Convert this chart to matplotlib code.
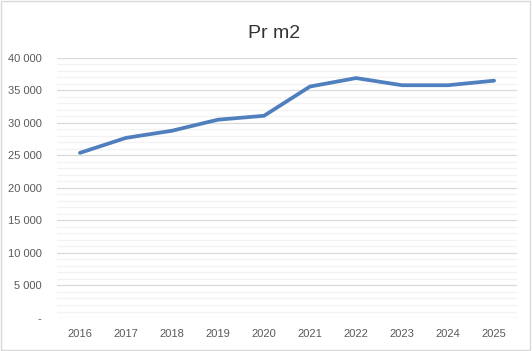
import matplotlib
matplotlib.use('Agg')
import matplotlib.pyplot as plt
from matplotlib.ticker import MultipleLocator, FuncFormatter
from matplotlib.patches import Rectangle

plt.rcParams['font.family'] = ['Liberation Sans', 'DejaVu Sans']

years = ['2016', '2017', '2018', '2019', '2020', '2021', '2022', '2023', '2024', '2025']
pr_m2 = [25400, 27700, 28800, 30500, 31100, 35600, 36900, 35800, 35800, 36500]


def fmt(v, pos):
    if v == 0:
        return '-'
    return '{:,.0f}'.format(v).replace(',', ' ')


fig = plt.figure(figsize=(5.32, 3.51), dpi=100)
ax = fig.add_axes([0.107, 0.094, 0.865, 0.741])

x = range(len(years))
ax.plot(x, pr_m2, color='#4f7fbd', lw=2.7, solid_capstyle='round', zorder=3)

ax.set_xlim(-0.5, len(years) - 0.5)
ax.set_ylim(0, 40000)
ax.set_xticks(list(x))
ax.set_xticklabels(years)
ax.yaxis.set_major_locator(MultipleLocator(5000))
ax.yaxis.set_minor_locator(MultipleLocator(1000))
ax.yaxis.set_major_formatter(FuncFormatter(fmt))

ax.grid(axis='y', which='major', color='#d9d9d9', lw=0.9)
ax.grid(axis='y', which='minor', color='#f2f2f2', lw=0.9)
ax.set_axisbelow(True)
for s in ax.spines.values():
    s.set_visible(False)
ax.tick_params(which='both', length=0, labelsize=8, labelcolor='#595959')
ax.tick_params(axis='y', pad=11)
ax.tick_params(axis='x', pad=8)

fig.text(0.515, 0.905, 'Pr m2', ha='center', va='center', fontsize=14, color='#333333')
fig.patches.append(Rectangle((0.002, 0.003), 0.995, 0.994, transform=fig.transFigure,
                             fill=False, edgecolor='#d9d9d9', lw=1))

fig.savefig('out.png', dpi=100)
